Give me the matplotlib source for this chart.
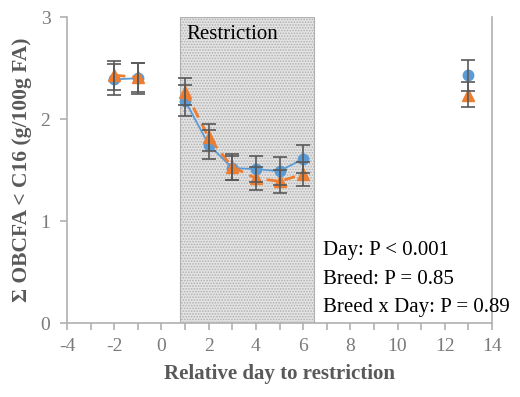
import numpy as np
import matplotlib.pyplot as plt
from matplotlib.ticker import MultipleLocator

# Relative day to restriction, split into the three periods
days_pre = [-2, -1]
days_res = [1, 2, 3, 4, 5, 6]
days_post = [13]

# Breed A (blue circles)
blue_pre = [2.39, 2.40]
blue_res = [2.18, 1.75, 1.52, 1.51, 1.49, 1.61]
blue_post = [2.43]
blue_err_pre = [0.15, 0.15]
blue_err_res = [0.15, 0.14, 0.12, 0.13, 0.14, 0.14]
blue_err_post = [0.15]

# Breed B (orange triangles)
orange_pre = [2.43, 2.41]
orange_res = [2.27, 1.82, 1.53, 1.42, 1.39, 1.46]
orange_post = [2.24]
orange_err_pre = [0.14, 0.14]
orange_err_res = [0.13, 0.13, 0.13, 0.11, 0.11, 0.12]
orange_err_post = [0.12]

restriction = (0.8, 6.45)
stats = ["Day: P < 0.001", "Breed: P = 0.85", "Breed x Day: P = 0.89"]

BLUE = "#5B9BD5"
ORANGE = "#ED7D31"
GREY = "#595959"
TICKLBL = "#7a7a7a"
AXIS = "#B0B0B0"

plt.rcParams["font.family"] = ["Liberation Serif", "DejaVu Serif"]
plt.rcParams["axes.unicode_minus"] = False
plt.rcParams["hatch.color"] = "#9a9a9a"
plt.rcParams["hatch.linewidth"] = 0.8

fig = plt.figure(figsize=(5.2, 3.97), dpi=100)
ax = fig.add_axes([0.129, 0.186, 0.817, 0.771])

ax.axvspan(*restriction, facecolor="#e4e4e4", edgecolor="#b0b0b0",
           hatch="......", lw=0.8, zorder=0)
ax.text(restriction[0] + 0.25, 2.83, "Restriction", fontsize=15,
        va="center", ha="left", color="black", zorder=1)

series = [
    (BLUE, "o", "-", 7.5,
     [(days_pre, blue_pre, blue_err_pre),
      (days_res, blue_res, blue_err_res),
      (days_post, blue_post, blue_err_post)]),
    (ORANGE, "^", (0, (4, 2.5)), 8,
     [(days_pre, orange_pre, orange_err_pre),
      (days_res, orange_res, orange_err_res),
      (days_post, orange_post, orange_err_post)]),
]

for color, marker, ls, ms, parts in series:
    for x, y, e in parts:
        ax.plot(x, y, color=color, ls=ls, lw=1.3 if ls == "-" else 2,
                marker=marker, ms=ms, zorder=3)
        ax.errorbar(x, y, yerr=e, fmt="none", ecolor=GREY, elinewidth=1.2,
                    capsize=5, capthick=1.2, zorder=4)

ax.set_xlim(-4, 14)
ax.set_ylim(0, 3)
ax.xaxis.set_major_locator(MultipleLocator(2))
ax.xaxis.set_minor_locator(MultipleLocator(1))
ax.yaxis.set_major_locator(MultipleLocator(1))

ax.spines["top"].set_visible(False)
for s in ["left", "bottom", "right"]:
    ax.spines[s].set_color(AXIS)
    ax.spines[s].set_linewidth(1.2)

ax.tick_params(axis="both", colors=AXIS, labelcolor=TICKLBL, labelsize=14,
               direction="out", length=5, width=1.2)
ax.tick_params(axis="x", which="both", pad=6)
ax.tick_params(axis="x", which="minor", colors=AXIS, length=5, width=1.2)
ax.tick_params(axis="y", right=False, pad=7)

ax.set_xlabel("Relative day to restriction", fontsize=15,
              fontweight="bold", color=GREY, labelpad=6)
ax.set_ylabel("\u03a3 OBCFA < C16 (g/100g FA)", fontsize=15.5,
              fontweight="bold", color=GREY, labelpad=6)

for i, line in enumerate(stats):
    ax.text(6.85, 0.71 - i * 0.28, line, fontsize=15, color="black",
            va="center", ha="left", zorder=5)

fig.savefig("out.png", dpi=100)
